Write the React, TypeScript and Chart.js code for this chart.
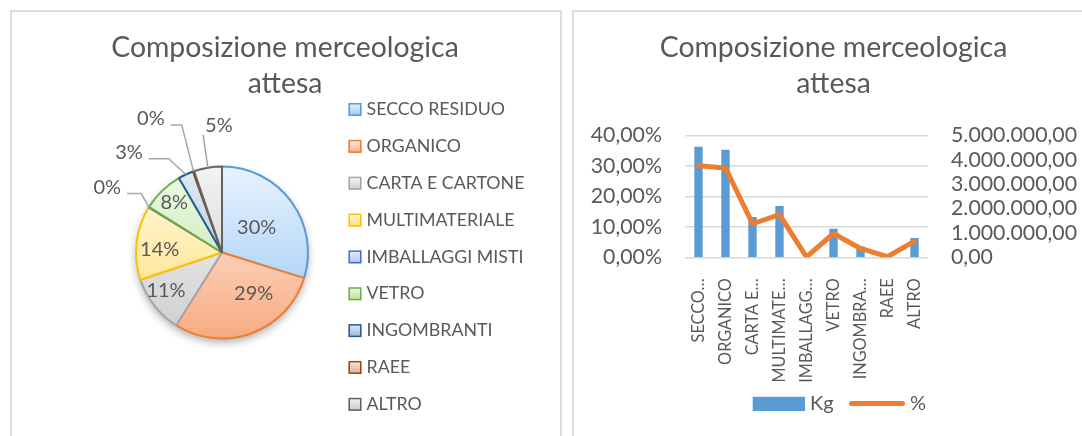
import React, { useEffect, useRef } from 'react';
import { Chart, registerables } from 'chart.js';

Chart.register(...registerables);

// ---------------- DATA ----------------
const categories = [
  'SECCO RESIDUO',
  'ORGANICO',
  'CARTA E CARTONE',
  'MULTIMATERIALE',
  'IMBALLAGGI MISTI',
  'VETRO',
  'INGOMBRANTI',
  'RAEE',
  'ALTRO',
];
const axisLabels = ['SECCO…', 'ORGANICO', 'CARTA E…', 'MULTIMATE…', 'IMBALLAGG…', 'VETRO', 'INGOMBRA…', 'RAEE', 'ALTRO'];
const kgValues = [4530000, 4410000, 1650000, 2100000, 15000, 1170000, 440000, 30000, 790000];
const pctValues = [0.3, 0.293, 0.11, 0.14, 0.001, 0.078, 0.029, 0.002, 0.053];
const pctTicks = [0, 0.1, 0.2, 0.3, 0.4];
const kgTicks = [0, 1000000, 2000000, 3000000, 4000000, 5000000];
const chartTitle = ['Composizione merceologica', 'attesa'];
const seriesNames = ['Kg', '%'];

// ---------------- STYLE ----------------
const FONT = 'Lato, "Open Sans", sans-serif';
const TEXT = '#595959';
const GRID = '#d9d9d9';
const BAR = '#5B9BD5';
const LINE = '#ED7D31';
const LEADER = '#a6a6a6';
const sliceBorder = ['#5B9BD5', '#ED7D31', '#A5A5A5', '#FFC000', '#4472C4', '#70AD47', '#255E91', '#9E480E', '#636363'];
const sliceTop = ['#e6f2ff', '#fff4ee', '#f8f8f8', '#fffbea', '#e8eef9', '#f0faea', '#e0eaf5', '#f8e8de', '#f3f3f3'];
const sliceBottom = ['#98c7f3', '#f7aa80', '#cdcdcd', '#ffdc70', '#b0c4ea', '#b7e19c', '#97b8d9', '#dcab8d', '#c8c8c8'];
const PIE_R = 86;
const PIE_CX = 210;
const TITLE_SIZE = 28.4;
const LEGEND_SIZE = 17.8;
const PIE_LABEL_SIZE = 20;
const AXIS_SIZE = 21.3;
const CAT_SIZE = 16.3;
const COMBO_LEGEND_SIZE = 20;

// label placement (angle shift in degrees, radius factor), outer labels with leader lines
const labelPlace: any[] = [
  { d: 1.1, r: 0.494 },
  { d: -17.2, r: 0.607 },
  { d: 3.6, r: 0.79 },
  { d: -3.7, r: 0.725 },
  { d: -2.15, r: 1.535, out: 'right', h: 14 },
  { d: 0, r: 0.8 },
  { d: -18, r: 1.59, out: 'right', h: 20 },
  { d: -8.6, r: 1.765, out: 'right', h: 11 },
  { d: 8.1, r: 1.475, out: 'left', h: 0 },
];

const titleOpts = {
  display: true,
  text: chartTitle,
  color: TEXT,
  font: { family: FONT, size: TITLE_SIZE, weight: 'normal' as const, lineHeight: 36 / TITLE_SIZE },
  padding: { top: 17.8, bottom: 33.5 },
};

const fmtPct = (v: number) => (v * 100).toFixed(2).replace('.', ',') + '%';
const fmtKg = (v: number) => {
  const [i, d] = Number(v).toFixed(2).split('.');
  return i.replace(/\B(?=(\d{3})+(?!\d))/g, '.') + ',' + d;
};

// keep the pie left of its legend while the title stays centred on the whole chart
const pieArea = {
  id: 'pieArea',
  afterLayout(chart: any) {
    const a = chart.chartArea;
    const w = 2 * PIE_R + 20;
    chart.chartArea = {
      left: PIE_CX - w / 2,
      right: PIE_CX + w / 2,
      top: a.top,
      bottom: a.bottom,
      width: w,
      height: a.bottom - a.top,
    };
  },
};

const pieShadow = {
  id: 'pieShadow',
  beforeDatasetsDraw(chart: any) {
    const arc = chart.getDatasetMeta(0).data[0];
    if (!arc) return;
    const { x, y, outerRadius } = arc.getProps(['x', 'y', 'outerRadius'], true);
    const ctx = chart.ctx;
    ctx.save();
    ctx.shadowColor = 'rgba(0,0,0,0.32)';
    ctx.shadowBlur = 9;
    ctx.shadowOffsetY = 4;
    ctx.fillStyle = '#fff';
    ctx.beginPath();
    ctx.arc(x, y, outerRadius, 0, Math.PI * 2);
    ctx.fill();
    ctx.restore();
  },
};

const pieLabels = {
  id: 'pieLabels',
  afterDatasetsDraw(chart: any) {
    const meta = chart.getDatasetMeta(0);
    const data = chart.data.datasets[0].data as number[];
    const total = data.reduce((a, b) => a + b, 0);
    const ctx = chart.ctx;
    ctx.save();
    ctx.font = `${PIE_LABEL_SIZE}px ${FONT}`;
    ctx.textAlign = 'center';
    ctx.textBaseline = 'middle';
    meta.data.forEach((arc: any, i: number) => {
      const { x, y, startAngle, endAngle, outerRadius } = arc.getProps(
        ['x', 'y', 'startAngle', 'endAngle', 'outerRadius'],
        true
      );
      const mid = (startAngle + endAngle) / 2;
      const p = labelPlace[i];
      const a = mid + (p.d * Math.PI) / 180;
      const lx = x + Math.cos(a) * outerRadius * p.r;
      const ly = y + Math.sin(a) * outerRadius * p.r;
      const text = Math.round((data[i] / total) * 100) + '%';
      if (p.out) {
        const w = ctx.measureText(text).width;
        const ex = x + Math.cos(mid) * outerRadius;
        const ey = y + Math.sin(mid) * outerRadius;
        ctx.strokeStyle = LEADER;
        ctx.lineWidth = 1.5;
        ctx.beginPath();
        if (p.out === 'right') {
          const ax = lx + w / 2 + 6;
          const ay = ly + 6.5;
          ctx.moveTo(ax, ay);
          ctx.lineTo(ax + p.h, ay);
          ctx.lineTo(ex, ey);
        } else {
          ctx.moveTo(lx - w / 2 - 2, ly + 9);
          ctx.lineTo(ex, ey);
        }
        ctx.stroke();
      }
      ctx.fillStyle = TEXT;
      ctx.fillText(text, lx, ly);
    });
    ctx.restore();
  },
};

const pieLegend = {
  id: 'pieLegend',
  afterDraw(chart: any) {
    const ctx = chart.ctx;
    const x0 = 336.5;
    const tx = 354.5;
    const y0 = 97.5;
    const step = 36.85;
    ctx.save();
    ctx.font = `${LEGEND_SIZE}px ${FONT}`;
    ctx.textAlign = 'left';
    ctx.textBaseline = 'middle';
    (chart.data.labels as string[]).forEach((lab, i) => {
      const cy = y0 + i * step;
      const g = ctx.createLinearGradient(0, cy - 6.5, 0, cy + 6.5);
      g.addColorStop(0, sliceTop[i]);
      g.addColorStop(1, sliceBottom[i]);
      ctx.fillStyle = g;
      ctx.fillRect(x0, cy - 6.5, 13, 13);
      ctx.strokeStyle = sliceBorder[i];
      ctx.lineWidth = 1.5;
      ctx.strokeRect(x0 + 0.75, cy - 5.75, 11.5, 11.5);
      ctx.fillStyle = TEXT;
      ctx.fillText(lab, tx, cy);
    });
    ctx.restore();
  },
};

const comboLegend = {
  id: 'comboLegend',
  afterDraw(chart: any) {
    const ctx = chart.ctx;
    const ds = chart.data.datasets;
    ctx.save();
    ctx.font = `${COMBO_LEGEND_SIZE}px ${FONT}`;
    ctx.textAlign = 'left';
    ctx.textBaseline = 'middle';
    const cy = 392;
    ctx.fillStyle = ds[1].backgroundColor;
    ctx.fillRect(178.7, cy - 7.2, 52.3, 14.3);
    ctx.fillStyle = TEXT;
    ctx.fillText(ds[1].label, 236, cy);
    ctx.strokeStyle = ds[0].borderColor;
    ctx.lineWidth = 5;
    ctx.lineCap = 'round';
    ctx.beginPath();
    ctx.moveTo(277.5, cy - 0.5);
    ctx.lineTo(328.5, cy - 0.5);
    ctx.stroke();
    ctx.fillStyle = TEXT;
    ctx.fillText(ds[0].label, 336, cy);
    ctx.restore();
  },
};

function PieChart() {
  const ref = useRef<HTMLCanvasElement>(null);
  useEffect(() => {
    if (!ref.current) return;
    const chart = new Chart(ref.current, {
      type: 'pie',
      data: {
        labels: categories,
        datasets: [
          {
            data: pctValues,
            radius: PIE_R,
            borderWidth: 2,
            borderColor: sliceBorder,
            backgroundColor: (c: any) => {
              const area = c.chart.chartArea;
              const i = c.dataIndex;
              if (!area || i === undefined) return sliceTop[i || 0];
              const cy = (area.top + area.bottom) / 2;
              const g = c.chart.ctx.createLinearGradient(0, cy - PIE_R, 0, cy + PIE_R);
              g.addColorStop(0, sliceTop[i]);
              g.addColorStop(1, sliceBottom[i]);
              return g;
            },
          } as any,
        ],
      },
      options: {
        responsive: false,
        animation: false,
        devicePixelRatio: 1,
        layout: { padding: { left: 0, right: 0, top: 0, bottom: 66.3 } },
        plugins: {
          title: titleOpts as any,
          legend: { display: false },
          tooltip: { enabled: false },
        },
      },
      plugins: [pieArea, pieShadow, pieLabels, pieLegend],
    });
    return () => chart.destroy();
  }, []);
  return <canvas ref={ref} width={546} height={424} style={{ position: 'absolute', left: 12, top: 12 }} />;
}

function ComboChart() {
  const ref = useRef<HTMLCanvasElement>(null);
  useEffect(() => {
    if (!ref.current) return;
    const chart = new Chart(ref.current, {
      type: 'bar',
      data: {
        labels: categories,
        datasets: [
          {
            type: 'line',
            label: seriesNames[1],
            data: pctValues,
            yAxisID: 'y',
            borderColor: LINE,
            backgroundColor: LINE,
            borderWidth: 5,
            pointRadius: 0,
            borderCapStyle: 'round',
            borderJoinStyle: 'round',
            tension: 0,
            order: 0,
          } as any,
          {
            type: 'bar',
            label: seriesNames[0],
            data: kgValues,
            yAxisID: 'y1',
            backgroundColor: BAR,
            categoryPercentage: 1,
            barPercentage: 0.31,
            order: 1,
          } as any,
        ],
      },
      options: {
        responsive: false,
        animation: false,
        devicePixelRatio: 1,
        layout: { padding: 0 },
        plugins: {
          title: titleOpts as any,
          legend: { display: false },
          tooltip: { enabled: false },
        },
        scales: {
          x: {
            grid: { display: false },
            border: { display: false },
            ticks: {
              autoSkip: false,
              maxRotation: 90,
              minRotation: 90,
              padding: 13,
              color: TEXT,
              font: { family: FONT, size: CAT_SIZE },
              callback: (_v: any, i: number) => axisLabels[i],
            },
            afterFit: (s: any) => {
              s.height = 178.7;
            },
          },
          y: {
            position: 'left',
            min: pctTicks[0],
            max: pctTicks[pctTicks.length - 1],
            ticks: {
              autoSkip: false,
              stepSize: pctTicks[1] - pctTicks[0],
              padding: 23,
              color: TEXT,
              font: { family: FONT, size: AXIS_SIZE },
              callback: (v: any) => fmtPct(Number(v)),
            },
            grid: { color: GRID, lineWidth: 1.5, drawTicks: false },
            border: { display: false },
            afterFit: (s: any) => {
              s.width = 111;
            },
          },
          y1: {
            position: 'right',
            min: kgTicks[0],
            max: kgTicks[kgTicks.length - 1],
            ticks: {
              autoSkip: false,
              stepSize: kgTicks[1] - kgTicks[0],
              padding: 23,
              color: TEXT,
              font: { family: FONT, size: AXIS_SIZE },
              callback: (v: any) => fmtKg(Number(v)),
            },
            grid: { display: false, drawTicks: false },
            border: { display: false },
            afterFit: (s: any) => {
              s.width = 165;
            },
          },
        } as any,
      },
      plugins: [comboLegend],
    });
    return () => chart.destroy();
  }, []);
  return <canvas ref={ref} width={519} height={424} style={{ position: 'absolute', left: 574, top: 12 }} />;
}

export default function App() {
  return (
    <div
      style={{
        position: 'absolute',
        left: 0,
        top: 0,
        width: 1082,
        height: 436,
        overflow: 'hidden',
        background: '#fff',
      }}
    >
      <div
        style={{
          position: 'absolute',
          left: 10,
          top: 10,
          width: 548,
          height: 480,
          border: '2px solid #dedede',
        }}
      />
      <div
        style={{
          position: 'absolute',
          left: 572,
          top: 10,
          width: 560,
          height: 480,
          border: '2px solid #dedede',
        }}
      />
      <PieChart />
      <ComboChart />
    </div>
  );
}
